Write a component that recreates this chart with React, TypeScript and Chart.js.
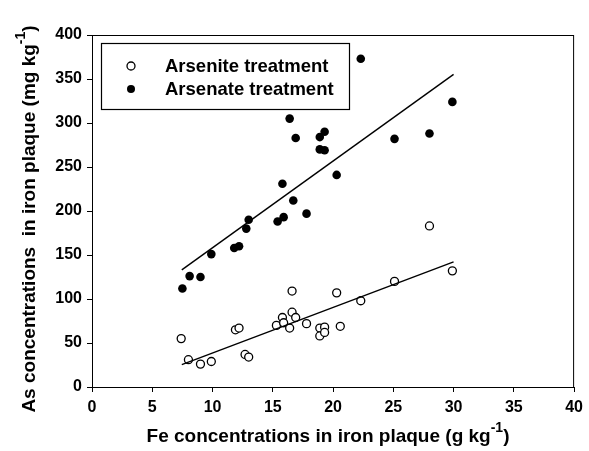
import React, { useEffect, useRef } from "react";
import { Chart, registerables } from "chart.js";

Chart.register(...registerables);

// Arsenite treatment (open circles): Fe (g/kg) and As (mg/kg)
const arseniteFe = [7.4, 8.0, 9.0, 9.9, 11.9, 12.2, 12.7, 13.0, 15.3, 15.8, 15.9, 16.4, 16.6, 16.6, 16.9, 17.8, 18.9, 18.9, 19.3, 19.3, 20.3, 20.6, 22.3, 25.1, 28.0, 29.9];
const arseniteAs = [55, 31, 26, 29, 65, 67, 37, 34, 70, 79, 73, 67, 109, 85, 79, 72, 67, 58, 68, 62, 107, 69, 98, 120, 183, 132];

// Arsenate treatment (filled circles)
const arsenateFe = [7.5, 8.1, 9.0, 9.9, 11.8, 12.2, 12.8, 13.0, 15.4, 15.9, 15.8, 16.4, 16.7, 16.9, 17.8, 18.9, 19.3, 18.9, 19.3, 20.3, 22.3, 25.1, 28.0, 29.9];
const arsenateAs = [112, 126, 125, 151, 158, 160, 180, 190, 188, 193, 231, 305, 212, 283, 197, 284, 290, 270, 269, 241, 373, 282, 288, 324];

// Fitted regression lines (slope, intercept) and x-range
const arseniteFit = { slope: 5.18, intercept: -13.2 };
const arsenateFit = { slope: 9.85, intercept: 59.7 };
const fitRange = [7.45, 30.0];

const xTicks = [0, 5, 10, 15, 20, 25, 30, 35, 40];
const yTicks = [0, 50, 100, 150, 200, 250, 300, 350, 400];

const legendLabels = ["Arsenite treatment", "Arsenate treatment"];
const xTitle = ["Fe concentrations in iron plaque (g kg", "-1", ")"];
const yTitle = ["As concentrations  in iron plaque (mg kg", "-1", ")"];

const FONT = "'Liberation Sans', Arial, sans-serif";

function toPts(xs: number[], ys: number[]) {
  return xs.map((x, i) => ({ x, y: ys[i] }));
}
function fitPts(f: { slope: number; intercept: number }) {
  return fitRange.map((x) => ({ x, y: f.slope * x + f.intercept }));
}

function drawSupText(ctx: CanvasRenderingContext2D, parts: string[], cx: number, cy: number, size: number) {
  const main = `bold ${size}px ${FONT}`;
  const sup = `bold ${Math.round(size * 0.72)}px ${FONT}`;
  ctx.font = main;
  const w0 = ctx.measureText(parts[0]).width;
  const w2 = ctx.measureText(parts[2]).width;
  ctx.font = sup;
  const w1 = ctx.measureText(parts[1]).width;
  const total = w0 + w1 + w2;
  let x = cx - total / 2;
  ctx.textBaseline = "middle";
  ctx.textAlign = "left";
  ctx.font = main;
  ctx.fillText(parts[0], x, cy);
  x += w0;
  ctx.font = sup;
  ctx.fillText(parts[1], x, cy - size * 0.48);
  x += w1;
  ctx.font = main;
  ctx.fillText(parts[2], x, cy);
}

const decorPlugin = {
  id: "decor",
  afterDraw(chart: any) {
    const ctx = chart.ctx as CanvasRenderingContext2D;
    const a = chart.chartArea;
    ctx.save();
    // frame
    ctx.strokeStyle = "#000";
    ctx.lineWidth = 1;
    ctx.strokeRect(a.left + 0.5, a.top + 0.5, a.right - a.left - 1, a.bottom - a.top);
    // legend
    const bx = 101.5, by = 43.5, bw = 248, bh = 66;
    ctx.lineWidth = 1.2;
    ctx.strokeRect(bx, by, bw, bh);
    ctx.fillStyle = "#000";
    ctx.font = `bold 18.5px ${FONT}`;
    ctx.textBaseline = "middle";
    ctx.textAlign = "left";
    const rows = [66, 89];
    rows.forEach((ry, i) => {
      ctx.beginPath();
      ctx.arc(131, ry, 4, 0, Math.PI * 2);
      if (i === 0) {
        ctx.fillStyle = "#fff";
        ctx.fill();
        ctx.lineWidth = 1.3;
        ctx.strokeStyle = "#000";
        ctx.stroke();
      } else {
        ctx.fillStyle = "#000";
        ctx.fill();
      }
      ctx.fillStyle = "#000";
      ctx.fillText(legendLabels[i], 165, ry + 1);
    });
    // axis titles
    drawSupText(ctx, xTitle, 328, 437, 19);
    ctx.translate(30, 219);
    ctx.rotate(-Math.PI / 2);
    drawSupText(ctx, yTitle, 0, 0, 19);
    ctx.restore();
  },
};

export default function App() {
  const ref = useRef<HTMLCanvasElement>(null);
  useEffect(() => {
    const chart = new Chart(ref.current!, {
      type: "scatter",
      data: {
        datasets: [
          {
            label: "Arsenite fit",
            type: "line",
            data: fitPts(arseniteFit),
            borderColor: "#000",
            borderWidth: 1.4,
            pointRadius: 0,
            fill: false,
          } as any,
          {
            label: "Arsenate fit",
            type: "line",
            data: fitPts(arsenateFit),
            borderColor: "#000",
            borderWidth: 1.4,
            pointRadius: 0,
            fill: false,
          } as any,
          {
            label: legendLabels[0],
            data: toPts(arseniteFe, arseniteAs),
            pointRadius: 4,
            pointBackgroundColor: "#fff",
            pointBorderColor: "#000",
            pointBorderWidth: 1.3,
          },
          {
            label: legendLabels[1],
            data: toPts(arsenateFe, arsenateAs),
            pointRadius: 4.3,
            pointBackgroundColor: "#000",
            pointBorderColor: "#000",
            pointBorderWidth: 0,
          },
        ],
      },
      options: {
        responsive: false,
        animation: false,
        layout: { padding: { top: 35, right: 11, left: 0, bottom: 0 } },
        plugins: { legend: { display: false }, tooltip: { enabled: false } },
        scales: {
          x: {
            type: "linear",
            min: 0,
            max: 40,
            afterBuildTicks: (s: any) => { s.ticks = xTicks.map((v) => ({ value: v })); },
            afterFit: (s: any) => { s.height = 64; },
            grid: { display: true, drawOnChartArea: false, drawTicks: true, tickLength: 5, color: "#000" },
            border: { display: true, color: "#000", width: 1 },
            ticks: { color: "#000", font: { family: FONT, size: 16, weight: "bold" }, padding: 6, maxRotation: 0 },
          },
          y: {
            type: "linear",
            min: 0,
            max: 400,
            afterBuildTicks: (s: any) => { s.ticks = yTicks.map((v) => ({ value: v })); },
            afterFit: (s: any) => { s.width = 92; },
            grid: { display: true, drawOnChartArea: false, drawTicks: true, tickLength: 5, color: "#000" },
            border: { display: true, color: "#000", width: 1 },
            ticks: { color: "#000", font: { family: FONT, size: 16, weight: "bold" }, padding: 5 },
          },
        },
      },
      plugins: [decorPlugin],
    });
    return () => chart.destroy();
  }, []);
  return (
    <div style={{ position: "fixed", left: 0, top: 0, width: 589, height: 451, background: "#fff" }}>
      <canvas ref={ref} width={589} height={451} />
    </div>
  );
}
